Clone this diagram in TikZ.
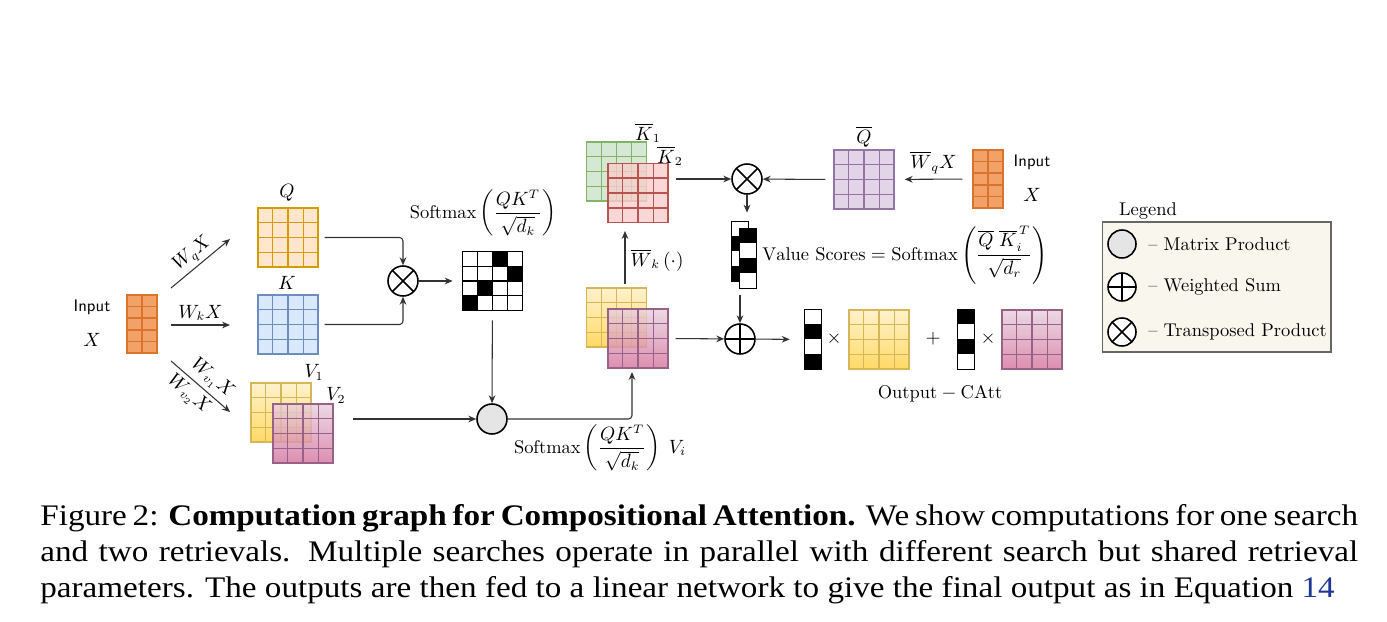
\documentclass[tikz,border=0pt]{standalone}
\usepackage{amsmath}
\usepackage{graphicx}
\usepackage{fontspec}
\newfontfamily\capfont{Liberation Serif}
\usepackage{tikz}
\usetikzlibrary{arrows.meta,calc,positioning,shadings}

\definecolor{inpfill}{HTML}{F2A266}
\definecolor{inpdraw}{HTML}{D8742E}
\definecolor{qfill}{HTML}{FFE6CC}
\definecolor{qdraw}{HTML}{D79B00}
\definecolor{kfill}{HTML}{DAE8FC}
\definecolor{kdraw}{HTML}{6C8EBF}
\definecolor{gfill}{HTML}{D5E8D4}
\definecolor{gdraw}{HTML}{82B366}
\definecolor{rfill}{HTML}{F8CECC}
\definecolor{rdraw}{HTML}{B85450}
\definecolor{pfill}{HTML}{E1D5E7}
\definecolor{pdraw}{HTML}{9673A6}
\definecolor{ytop}{HTML}{FFF2CC}
\definecolor{ybot}{HTML}{FFD966}
\definecolor{ydraw}{HTML}{D6B656}
\definecolor{mtop}{HTML}{E6D0DE}
\definecolor{mbot}{HTML}{D5739D}
\definecolor{mdraw}{HTML}{996185}
\definecolor{legfill}{HTML}{F9F7ED}
\definecolor{arrgray}{HTML}{333333}
\definecolor{eqblue}{RGB}{30,55,150}

\tikzset{
  every node/.style={font=\fontsize{10.5}{12.6}\selectfont},
  mat/.style={rectangle, inner sep=0pt, minimum width=1.2cm, minimum height=1.18cm, line width=.8pt},
  inp/.style={rectangle, inner sep=0pt, minimum width=.6cm, minimum height=1.16cm, line width=.8pt, fill=inpfill, draw=inpdraw},
  scol/.style={rectangle, inner sep=0pt, minimum width=.32cm, minimum height=1.18cm, fill=white},
  smat/.style={rectangle, inner sep=0pt, minimum width=1.18cm, minimum height=1.16cm, fill=white},
  arr/.style={-{Stealth[length=4.5pt,width=3.8pt]}, line width=.6pt, draw=arrgray},
  otimes/.style={circle, draw, line width=.9pt, minimum size=.6cm, inner sep=0pt, fill=white,
    path picture={\draw[line width=.9pt] (path picture bounding box.north west) -- (path picture bounding box.south east)
      (path picture bounding box.north east) -- (path picture bounding box.south west);}},
  oplus/.style={circle, draw, line width=.9pt, minimum size=.6cm, inner sep=0pt, fill=white,
    path picture={\draw[line width=.9pt] (path picture bounding box.north) -- (path picture bounding box.south)
      (path picture bounding box.west) -- (path picture bounding box.east);}},
  mprod/.style={circle, draw, line width=.9pt, minimum size=.6cm, inner sep=0pt, fill=black!10},
  legbox/.style={rectangle, draw=black!60, line width=.6pt, fill=legfill, minimum width=4.58cm, minimum height=2.6cm},
  captext/.style={anchor=base west, inner sep=0pt, font=\capfont\fontsize{17}{20}\selectfont},
}

% grid lines inside a matrix node: node, cols, rows, colour
\newcommand{\matgrid}[4]{%
  \pgfmathtruncatemacro\lastc{#2-1}
  \pgfmathtruncatemacro\lastr{#3-1}
  \foreach \i in {1,...,\lastc}
    \draw[#4, line width=.7pt] ($(#1.north west)!\i/#2!(#1.north east)$) -- ($(#1.south west)!\i/#2!(#1.south east)$);
  \foreach \j in {1,...,\lastr}
    \draw[#4, line width=.7pt] ($(#1.north west)!\j/#3!(#1.south west)$) -- ($(#1.north east)!\j/#3!(#1.south east)$);
}
% black cells of a score column: node, rows
\newcommand{\colcells}[2]{%
  \foreach \r in {#2}
    \fill ($(#1.north west)+(0,\r*14.75)$) rectangle ++(16,14.75);
  \draw[line width=.9pt] (#1.north west) rectangle (#1.south east);
}

\begin{document}
\begin{tikzpicture}[x=0.02cm, y=-0.02cm]
\path[fill=white, use as bounding box] (0,0) rectangle (1387,622);

% input on the left
\node[inp] (inL) at (142,324) {};
\matgrid{inL}{2}{5}{inpdraw}
\node[font=\sffamily\fontsize{9.5}{11}\selectfont] (inLt) at (92,307) {Input};
\node (inLx) at (92,340) {$X$};

\coordinate (q0) at (171,288);
\coordinate (q1) at (230,239);
\coordinate (k0) at (171,325);
\coordinate (k1) at (230,325);
\coordinate (v0) at (171,361);
\coordinate (v1) at (230,412);
\draw[arr] (q0) -- node[sloped, above, inner sep=1.5pt] (lwq) {$W_q X$} (q1);
\draw[arr] (k0) -- node[above, inner sep=2pt] (lwk) {$W_k X$} (k1);
\draw[arr] (v0) -- node[sloped, above, inner sep=2.5pt, xshift=2pt] (lwv1) {$W_{v_1}X$}
                   node[sloped, below, inner sep=2.5pt, xshift=-2pt] (lwv2) {$W_{v_2}X$} (v1);

% Q, K, V
\node[mat, fill=qfill, draw=qdraw] (Q) at (288,237.5) {};
\matgrid{Q}{4}{4}{qdraw}
\node (lQ) at (287,193) {$Q$};
\node[mat, fill=kfill, draw=kdraw] (K) at (288,324.5) {};
\matgrid{K}{4}{4}{kdraw}
\node (lK) at (287,283) {$K$};
\node[mat, top color=ytop, bottom color=ybot, draw=ydraw] (V1) at (281,412.5) {};
\matgrid{V1}{4}{4}{ydraw}
\node[mat, top color=mtop, bottom color=mbot, draw=mdraw, fill opacity=.8] (V2) at (303,433.5) {};
\matgrid{V2}{4}{4}{mdraw}
\node (lV1) at (314,372) {$V_1$};
\node (lV2) at (336,395) {$V_2$};

% attention scores
\node[otimes] (ot1) at (403,281) {};
\draw[arr, rounded corners=2pt, shorten <=.12cm] (Q.east) -| (ot1);
\draw[arr, rounded corners=2pt, shorten <=.12cm] (K.east) -| (ot1);
\node[smat] (S) at (492.5,281) {};
\foreach \c/\r in {2/0,3/1,1/2,0/3}
  \fill ($(S.north west)+(\c*14.75,\r*14.5)$) rectangle ++(14.75,14.5);
\matgrid{S}{4}{4}{black}
\draw[line width=.9pt] (S.north west) rectangle (S.south east);
\node (lsm) at (483,213) {$\mathrm{Softmax}\left(\dfrac{QK^T}{\sqrt{d_k}}\right)$};
\draw[arr, shorten >=.2cm] (ot1) -- (S);

\node[mprod] (mp) at (492,419) {};
\draw[arr, shorten <=.2cm] (S) -- (mp);
\coordinate (vout) at (353,419);
\draw[arr] (vout) -- (mp);
\coordinate (vin) at (632,372);
\draw[arr, rounded corners=2pt] (mp) -| (vin);
\node (lsv) at (600,448) {$\mathrm{Softmax}\left(\dfrac{QK^T}{\sqrt{d_k}}\right)\;V_i$};

% retrieved values
\node[mat, top color=ytop, bottom color=ybot, draw=ydraw] (Vr1) at (616.5,317.5) {};
\matgrid{Vr1}{4}{4}{ydraw}
\node[mat, top color=mtop, bottom color=mbot, draw=mdraw, fill opacity=.8] (Vr2) at (638,338.5) {};
\matgrid{Vr2}{4}{4}{mdraw}

\coordinate (wk0) at (625,284);
\coordinate (wk1) at (625,231);
\draw[arr] (wk0) -- (wk1);
\node (lwk2) at (657,260) {$\overline{W}_k\,(\cdot)$};

% retrieval keys
\node[mat, fill=gfill, draw=gdraw] (Kb1) at (616.5,171.5) {};
\matgrid{Kb1}{4}{4}{gdraw}
\node[mat, fill=rfill, draw=rdraw, fill opacity=.8] (Kb2) at (638,193) {};
\matgrid{Kb2}{4}{4}{rdraw}
\node (lKb1) at (648,133) {$\overline{K}_1$};
\node (lKb2) at (670,156) {$\overline{K}_2$};

% retrieval query
\node[otimes] (ot2) at (747,179) {};
\node[mat, fill=pfill, draw=pdraw] (Qb) at (864,179.5) {};
\matgrid{Qb}{4}{4}{pdraw}
\node (lQb) at (864,137) {$\overline{Q}$};
\node[inp] (inR) at (988,179) {};
\matgrid{inR}{2}{5}{inpdraw}
\node[font=\sffamily\fontsize{9.5}{11}\selectfont] (inRt) at (1032,162) {Input};
\node (inRx) at (1032,195) {$X$};
\draw[arr, shorten <=.2cm, shorten >=.2cm] (inR) -- node[above, inner sep=3pt] (lwq2) {$\overline{W}_q X$} (Qb);
\draw[arr, shorten <=.16cm] (Qb.west) -- (ot2);
\draw[arr, shorten <=.14cm] (Kb2.east |- ot2) -- (ot2);

% value scores
\node[scol] (vs1) at (740,251.5) {};
\colcells{vs1}{1,3}
\node[scol] (vs2) at (748,258.5) {};
\colcells{vs2}{0,2}
\draw[arr, shorten >=.18cm] (ot2) -- (ot2 |- vs1.north);
\node (lvs) at (905,255) {$\mathrm{Value\ Scores}=\mathrm{Softmax}\left(\dfrac{\overline{Q}\;\overline{K}_i^{\,T}}{\sqrt{d_r}}\right)$};

\node[oplus] (op) at (740,339) {};
\draw[arr, shorten <=.14cm] (op |- vs2.south) -- (op);
\draw[arr, shorten <=.14cm] (Vr2.east) -- (op);

% output
\node[scol] (oc1) at (813,339.5) {};
\colcells{oc1}{1,3}
\node (tm1) at (834,339) {$\times$};
\node[mat, top color=ytop, bottom color=ybot, draw=ydraw] (oy) at (879,339.5) {};
\matgrid{oy}{4}{4}{ydraw}
\node (pl) at (933,339) {$+$};
\node[scol] (oc2) at (966,339.5) {};
\colcells{oc2}{0,2}
\node (tm2) at (988,339) {$\times$};
\node[mat, top color=mtop, bottom color=mbot, draw=mdraw, fill opacity=.8] (om) at (1032,339.5) {};
\matgrid{om}{4}{4}{mdraw}
\node (lout) at (940,394) {$\mathrm{Output}-\mathrm{CAtt}$};
\draw[arr, shorten >=.3cm] (op) -- (oc1);

% legend
\node[legbox] (leg) at (1216.5,287) {};
\node (legt) at (1148,211) {Legend};
\node[mprod, minimum size=.56cm] (lg1) at (1122,244) {};
\node[right=3pt of lg1] (lgt1) {-- Matrix Product};
\node[oplus, minimum size=.56cm] (lg2) at (1122,287) {};
\node[right=3pt of lg2] (lgt2) {-- Weighted Sum};
\node[otimes, minimum size=.56cm] (lg3) at (1122,332) {};
\node[right=3pt of lg3] (lgt3) {-- Transposed Product};

% caption
\node[captext] (cap1) at (40,525) {\scalebox{1.11}[1]{\makebox[23.75cm][s]{Figure 2: \textbf{Computation graph for Compositional Attention.} We show computations for one search}}};
\node[captext] (cap2) at (40,561) {\scalebox{1.11}[1]{\makebox[23.75cm][s]{and two retrievals. Multiple searches operate in parallel with different search but shared retrieval}}};
\node[captext] (cap3) at (40,597) {\scalebox{1.11}[1]{parameters. The outputs are then fed to a linear network to give the final output as in Equation \textcolor{eqblue}{14}}};
\end{tikzpicture}
\end{document}
